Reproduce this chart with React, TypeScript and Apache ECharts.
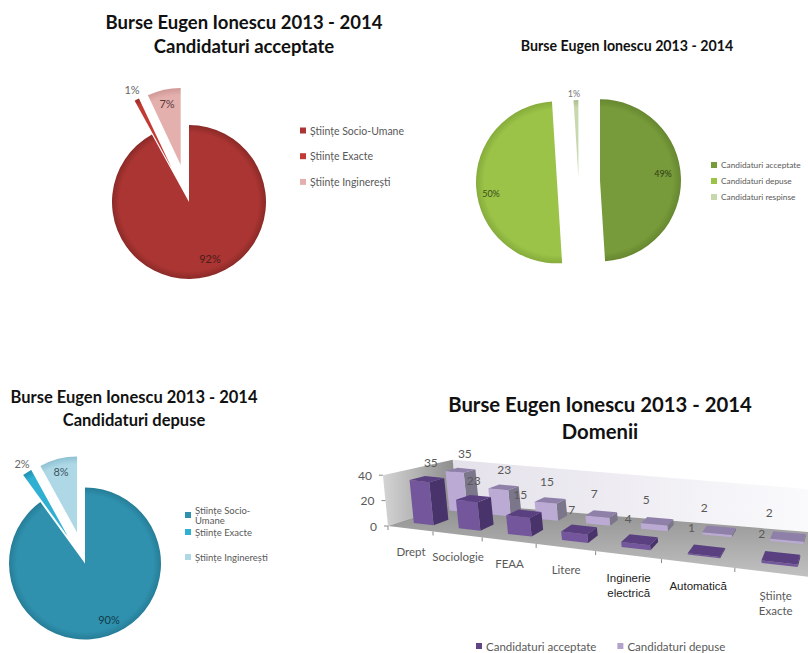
import React, { useEffect, useRef } from "react";
import * as echarts from "echarts";

const domainCategories = ["Drept", "Sociologie", "FEAA", "Litere", "Inginerie\nelectrică", "Automatică", "Științe\nExacte"];
const acceptedByDomain = [35, 23, 15, 7, 4, 1, 2];
const submittedByDomain = [35, 23, 15, 7, 5, 2, 2];
const valueTicks = [0, 20, 40];

const fieldNames = ["Științe Socio-Umane", "Științe Exacte", "Științe Inginerești"];
const acceptedShares = [92, 1, 7];
const submittedShares = [90, 2, 8];
const statusNames = ["Candidaturi acceptate", "Candidaturi depuse", "Candidaturi respinse"];
const statusShares = [49, 50, 1];

const FONT = "Lato";
const GREY = "#595959";

const radial = (cx: number, cy: number, r: number, inner: string, outer: string) => ({
  type: "radial", x: cx, y: cy, r, global: true,
  colorStops: [{ offset: 0, color: inner }, { offset: 0.9, color: inner }, { offset: 1, color: outer }],
});

// One pie series per slice, so that each slice has its own explosion distance and radius.
function explodedPie(name: string, names: string[], values: number[], cx: number, cy: number, radii: number[], offsets: number[],
  fills: [string, string][], textColors: string[], labelAt: number[][], fontSize: number) {
  const total = values.reduce((a, b) => a + b, 0);
  let running = 0;
  return values.map((v, slice) => {
    const mid = ((running + v / 2) / total) * 2 * Math.PI;
    running += v;
    const x = cx + offsets[slice] * Math.sin(mid);
    const y = cy - offsets[slice] * Math.cos(mid);
    return {
      type: "pie", name: `${name} ${slice + 1}`, center: [x, y], radius: [0, radii[slice]], startAngle: 90, silent: true,
      avoidLabelOverlap: false,
      emphasis: { disabled: true },
      labelLine: { show: false },
      labelLayout: () => ({ x: labelAt[slice][0], y: labelAt[slice][1], align: "center", verticalAlign: "middle" }),
      label: { show: true, position: "inside", formatter: "{c}%", fontFamily: FONT, fontSize, textBorderWidth: 0 },
      data: values.map((value, i) => ({
        name: names[i], value,
        itemStyle: { color: i === slice ? radial(x, y, radii[slice], fills[i][0], fills[i][1]) : "rgba(0,0,0,0)" },
        label: { show: i === slice, color: textColors[i] },
      })),
    };
  });
}

// Perspective of the 3D column plot: u along the categories, d into the depth, z upwards.
function project(u: number, d: number, z: number): number[] {
  const k = u / (1 - 0.0424 * u);
  const fx = 388 + 43.1 * k, fy = 526 + 0.121 * 43.1 * k;
  const bx = 457 + 37 * k, by = 503 + 0.0826 * 37 * k;
  const h = z * 1.27 * (1 - 0.15 * d);
  return [fx + (bx - fx) * d - h * 0.1, fy + (by - fy) * d - h];
}

// The hidden grid is 100 px per category and 10 px per unit.
const toWorld = (api: any, cat: number, val: number) => {
  const c = api.coord([cat, val]);
  return { u: c[0] / 100, z: (400 - c[1]) / 10 };
};

const poly = (points: number[][], fill: any) => ({ type: "polygon", shape: { points }, style: { fill } });

function barRenderer(d0: number, d1: number, front: string, top: string, side: string) {
  return (_: any, api: any) => {
    const { u, z } = toWorld(api, api.value(0), api.value(1));
    const u0 = u - 0.2, u1 = u + 0.25;
    const P = project;
    return {
      type: "group",
      children: [
        poly([P(u1, d0, 0), P(u1, d1, 0), P(u1, d1, z), P(u1, d0, z)], side),
        poly([P(u0, d0, 0), P(u1, d0, 0), P(u1, d0, z), P(u0, d0, z)], front),
        poly([P(u0, d0, z), P(u1, d0, z), P(u1, d1, z), P(u0, d1, z)], top),
      ],
    };
  };
}

const valueLabelRenderer = (d: number) => (_: any, api: any) => {
  const value = api.value(1);
  const { u, z } = toWorld(api, api.value(0), value);
  const p = project(u - 0.02, d, z);
  return {
    type: "text",
    style: {
      x: p[0] + 8 - 3.6 * u, y: p[1] - 16 - 1.2 * u, text: String(value),
      fill: GREY, fontFamily: FONT, fontSize: 12, align: "center", verticalAlign: "middle",
    },
  };
};

const wallRenderer = () => {
  const P = project;
  const U = 7;
  const wallGrad = (a: string, b: string) => new echarts.graphic.LinearGradient(0, 0, 1, 0, [{ offset: 0, color: a }, { offset: 1, color: b }]);
  const ticks = [0, 1, 2, 3, 4, 5, 6, 7].map((u) => {
    const p = P(u, 0, 0);
    return { type: "line", shape: { x1: p[0], y1: p[1], x2: p[0], y2: p[1] + 4 }, style: { stroke: "#888", lineWidth: 1 } };
  });
  return {
    type: "group",
    children: [
      poly([P(0, 1, 40), P(U, 1, 40), P(U, 1, 0), P(0, 1, 0)], wallGrad("#e4e1ea", "#fbfbfd")),
      poly([P(0, 0, 40), P(0, 1, 40), P(0, 1, 0), P(0, 0, 0)], wallGrad("#d4d4d4", "#8a8a8a")),
      poly([P(0, 0, 0), P(0, 1, 0), P(U, 1, 0), P(U, 0, 0)], new echarts.graphic.LinearGradient(0, 0, 0, 1, [{ offset: 0, color: "#8e8e8e" }, { offset: 1, color: "#c2c2c2" }])),
      ...ticks,
    ],
  };
};

const categoryLabelRenderer = (_: any, api: any) => {
  const i = api.value(0);
  const { u } = toWorld(api, i, 0);
  const p = project(u, 0, 0);
  const arial = i === 4 || i === 5;
  return {
    type: "text",
    style: {
      x: p[0] + 1, y: p[1] + 15, text: domainCategories[i], align: "center", verticalAlign: "top", lineHeight: 15,
      fill: arial ? "#222" : GREY, fontFamily: arial ? "Liberation Sans" : FONT, fontSize: 11.5,
    },
  };
};

const yLabelRenderer = (_: any, api: any) => {
  const value = api.value(1);
  const { z } = toWorld(api, 0, value);
  const p = project(0, 0, z);
  return {
    type: "group",
    children: [
      { type: "line", shape: { x1: p[0] - 4, y1: p[1], x2: p[0], y2: p[1] }, style: { stroke: "#888", lineWidth: 1 } },
      { type: "text", style: { x: p[0] - 11, y: p[1], text: String(value), align: "right", verticalAlign: "middle", fill: GREY, fontFamily: FONT, fontSize: 12 } },
    ],
  };
};

const title = (text: string, x: number, top: number, fontSize: number, lineHeight: number) => ({
  text, left: x, top, textAlign: "center", padding: 0,
  textStyle: { fontFamily: FONT, fontWeight: "bold", fontSize, lineHeight, color: "#111" },
});

const legend = (names: string[], colors: string[], left: number, top: number, itemGap: number, fontSize: number, orient = "vertical", fmt?: (n: string) => string) => ({
  left, top, orient, itemGap, itemWidth: 6, itemHeight: 6, icon: "rect", selectedMode: false, padding: 0,
  textStyle: { fontFamily: FONT, fontSize, color: GREY, padding: [0, 0, 0, -1] },
  ...(fmt ? { formatter: fmt } : {}),
  data: names.map((name, i) => ({ name, itemStyle: { color: colors[i] } })),
});

const RED: [string, string][] = [["#ab3532", "#8a2a28"], ["#c23a34", "#9c2b28"], ["#e4b0ae", "#cf9896"]];
const GREEN: [string, string][] = [["#779a3a", "#668730"], ["#9ac348", "#86ab3b"], ["#c8d8ad", "#a9bd8b"]];
const BLUE: [string, string][] = [["#2f91ae", "#267d97"], ["#2fb0d2", "#218fad"], ["#aed8e6", "#8fc2d3"]];

const option: any = {
  animation: false,
  backgroundColor: "#fff",
  title: [
    title("Burse Eugen Ionescu 2013 - 2014\nCandidaturi acceptate", 244, 10, 18.5, 24),
    title("Burse Eugen Ionescu 2013 - 2014", 627, 37, 14.2, 16),
    title("Burse Eugen Ionescu 2013 - 2014\nCandidaturi depuse", 134, 385, 16.5, 23),
    title("Burse Eugen Ionescu 2013 - 2014\nDomenii", 600, 390, 20.3, 27),
  ],
  legend: [
    legend(fieldNames, RED.map((c) => c[0]), 300, 125, 14.7, 10.5),
    legend(statusNames, GREEN.map((c) => c[0]), 711, 161, 8, 8.3),
    legend(fieldNames.slice(0, 1), BLUE.map((c) => c[0]), 185, 505, 0, 9.5, "vertical", () => "Științe Socio-\nUmane"),
    legend(fieldNames.slice(1), BLUE.slice(1).map((c) => c[0]), 185, 527, 15, 9.5),
    legend(["Candidaturi acceptate", "Candidaturi depuse"], ["#5f4585", "#b3a2cc"], 476, 640, 21, 11.5, "horizontal"),
  ],
  grid: { left: 0, top: 0, width: 700, height: 400, show: false },
  xAxis: { type: "category", data: domainCategories, show: false, boundaryGap: true },
  yAxis: { type: "value", min: 0, max: 40, interval: 20, show: false },
  series: [
    ...explodedPie("Candidaturi acceptate", fieldNames, acceptedShares, 189, 202, [77, 77, 77], [0, 38, 38], RED, ["#4a1c1c", "#666", "#5c3a3a"], [[210, 258], [132, 89], [167, 103]], 11),
    ...explodedPie("Burse", statusNames, statusShares, 578.5, 181, [81, 81, 77], [21.5, 21.5, 4], GREEN, ["#2e3d14", "#3b4d18", "#777"], [[663, 173], [491, 193], [574, 93]], 9),
    ...explodedPie("Candidaturi depuse", fieldNames, submittedShares, 85, 563.5, [76, 76, 76], [0, 32, 32], BLUE, ["#123c4a", "#666", "#3d5560"], [[109, 619], [22, 463], [61, 471]], 11),
    { type: "custom", name: "Pereți", silent: true, coordinateSystem: "cartesian2d", renderItem: wallRenderer, data: [[0, 0]], clip: false, z: 1 },
    { type: "custom", name: "Etichete domenii", silent: true, renderItem: categoryLabelRenderer, data: domainCategories.map((_, i) => [i, 0]), clip: false, z: 2 },
    { type: "custom", name: "Scală", silent: true, renderItem: yLabelRenderer, data: valueTicks.map((v) => [0, v]), clip: false, z: 2 },
    { type: "custom", name: "Candidaturi depuse", silent: true, renderItem: barRenderer(0.72, 0.9, "#bbaad4", "#8f80aa", "#7b7689"), data: submittedByDomain.map((v, i) => [i, v]), clip: false, z: 3 },
    { type: "custom", name: "Candidaturi acceptate", silent: true, renderItem: barRenderer(0.19, 0.42, "#73569b", "#5a4080", "#48336a"), data: acceptedByDomain.map((v, i) => [i, v]), clip: false, z: 4 },
    { type: "custom", name: "Valori depuse", silent: true, renderItem: valueLabelRenderer(0.81), data: submittedByDomain.map((v, i) => [i, v]), clip: false, z: 5 },
    { type: "custom", name: "Valori acceptate", silent: true, renderItem: valueLabelRenderer(0.3), data: acceptedByDomain.map((v, i) => [i, v]), clip: false, z: 5 },
  ],
};

export default function App() {
  const ref = useRef<HTMLDivElement>(null);
  useEffect(() => {
    const chart = echarts.init(ref.current!, undefined, { renderer: "svg" });
    chart.setOption(option);
    return () => chart.dispose();
  }, []);
  return <div ref={ref} style={{ position: "fixed", left: 0, top: 0, width: 808, height: 653, overflow: "hidden" }} />;
}
